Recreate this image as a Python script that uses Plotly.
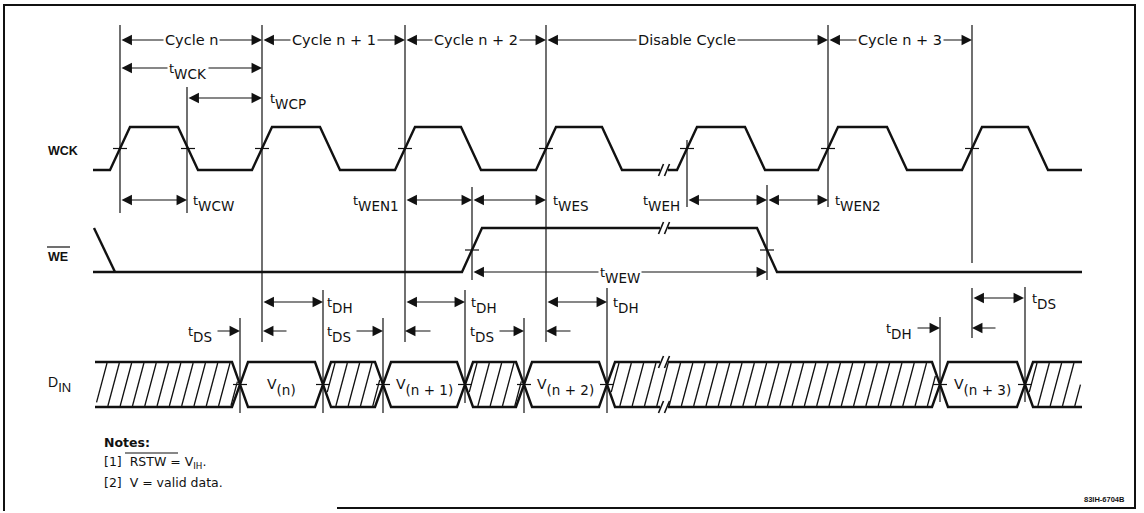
import numpy as np
import plotly.graph_objects as go

# ---------------- data (time axis in arbitrary units) ----------------
WCK_RISE = [120, 262, 405, 546, 687, 828, 972]
WCK_FALL = [188, 330, 471, 612, 755, 897, 1038]
WCK_SPAN = [93, 1082]
BREAK_T = [660, 668]

CYCLE_BOUNDS = [120, 262, 405, 546, 828, 972]
CYCLE_LABELS = ["Cycle n", "Cycle n + 1", "Cycle n + 2", "Disable Cycle", "Cycle n + 3"]

WE_FALL0 = [94, 115]
WE_EDGES = [472, 767]

DIN_CROSS = [240, 323, 383, 465, 524, 607, 940, 1025]
DIN_VALID = ["(n)", "(n + 1)", "(n + 2)", "(n + 3)"]

# timing parameters: (start, end, row)
CYCLE_ROW = 40
TWO_WAY = [
    (120, 262, 68), (187, 262, 98), (120, 187, 200), (405, 472, 200),
    (472, 546, 200), (687, 767, 200), (767, 828, 200), (472, 767, 272),
    (262, 323, 302), (405, 465, 302), (546, 607, 302), (972, 1024, 298),
]
ONE_WAY = [  # tail -> head
    (216, 240, 331), (288, 263, 331), (355, 383, 331), (432, 405, 331),
    (498, 524, 331), (572, 546, 331), (916, 940, 328), (997, 972, 328),
]
# timing labels: (x, row, name, anchor, background)
TIMING_LABELS = [
    (188, 68, "WCK", "center", True),
    (268, 98, "WCP", "left", False),
    (191, 200, "WCW", "left", False),
    (401, 200, "WEN1", "right", False),
    (551, 200, "WES", "left", False),
    (682, 200, "WEH", "right", False),
    (833, 200, "WEN2", "left", False),
    (620, 272, "WEW", "center", True),
    (325, 302, "DH", "left", False),
    (469, 302, "DH", "left", False),
    (611, 302, "DH", "left", False),
    (1030, 298, "DS", "left", False),
    (214, 331, "DS", "right", False),
    (353, 331, "DS", "right", False),
    (496, 331, "DS", "right", False),
    (914, 328, "DH", "right", False),
]

REF_LINES = [  # (t, from row, to row)
    (120, 25, 213), (187, 87, 213), (262, 25, 342), (405, 25, 342), (546, 25, 342),
    (687, 140, 207), (767, 185, 280), (828, 25, 207), (972, 25, 263), (972, 288, 338),
    (472, 187, 280), (240, 318, 413), (323, 290, 413), (383, 318, 413), (465, 290, 403),
    (524, 318, 413), (607, 288, 413), (940, 317, 402), (1025, 287, 402),
]

# levels (row units, top = 0)
WCK_HI, WCK_LO = 127, 170
WE_HI, WE_LO = 228, 272
DIN_TOP, DIN_BOT = 362, 407

INK = "#111111"
FONT = "DejaVu Sans, Liberation Sans, Arial, sans-serif"
FONT2 = "Liberation Sans, Arial, sans-serif"

fig = go.Figure()


def add_line(xs, ys, width=2.4, color=INK):
    fig.add_trace(go.Scatter(x=xs, y=ys, mode="lines", hoverinfo="skip", showlegend=False,
                             line=dict(color=color, width=width)))


def break_marks(xc, yc, h=6):
    xs, ys = [], []
    for dx in (-3, 3):
        xs += [xc + dx - 2.5, xc + dx + 2.5, None]
        ys += [yc + h, yc - h, None]
    add_line(xs, ys, width=1.6)


# ---- WCK waveform ----
tr = 10
events = sorted([(r, "r") for r in WCK_RISE] + [(f, "f") for f in WCK_FALL])
xs, ys = [WCK_SPAN[0]], [WCK_LO]
for t, kind in events:
    if kind == "r":
        if BREAK_T[1] < t < BREAK_T[1] + 30:
            xs += [BREAK_T[0], None, BREAK_T[1]]
            ys += [WCK_LO, None, WCK_LO]
        xs += [t - tr, t + tr]
        ys += [WCK_LO, WCK_HI]
    else:
        xs += [t - tr, t + tr]
        ys += [WCK_HI, WCK_LO]
xs.append(WCK_SPAN[1]); ys.append(WCK_LO)
add_line(xs, ys)
break_marks(sum(BREAK_T) / 2, WCK_LO)

# crossing ticks
tk, tky = [], []
WCK_MID = (WCK_HI + WCK_LO) / 2
WE_MID = (WE_HI + WE_LO) / 2
DIN_MID = (DIN_TOP + DIN_BOT) / 2
for ts, ym in ((WCK_RISE + [WCK_FALL[0]], WCK_MID), (WE_EDGES, WE_MID), (DIN_CROSS, DIN_MID)):
    for t in ts:
        tk += [t - 7, t + 7, None]
        tky += [ym, ym, None]
add_line(tk, tky, width=1.2)

# ---- WE waveform ----
add_line(WE_FALL0, [WE_HI, WE_LO])
r, f = WE_EDGES
add_line([WE_FALL0[0] - 1, r - tr, r + tr, BREAK_T[0]], [WE_LO, WE_LO, WE_HI, WE_HI])
add_line([BREAK_T[1], f - tr, f + tr, WCK_SPAN[1]], [WE_HI, WE_HI, WE_LO, WE_LO])
break_marks(sum(BREAK_T) / 2, WE_HI)

# ---- DIN bus ----
hw = 8
hh = (DIN_BOT - DIN_TOP) / 2
bounds = [WCK_SPAN[0] + 2] + DIN_CROSS + [WCK_SPAN[1]]
nreg = len(bounds) - 1
top_x, top_y, bot_x, bot_y = [], [], [], []
for i in range(nreg):
    a, b = bounds[i], bounds[i + 1]
    px, pt, pb = [], [], []
    if i > 0:
        px.append(a); pt.append(DIN_MID); pb.append(DIN_MID)
    px.append(a + hw if i > 0 else a); pt.append(DIN_TOP); pb.append(DIN_BOT)
    px.append(b - hw if i < nreg - 1 else b); pt.append(DIN_TOP); pb.append(DIN_BOT)
    if i < nreg - 1:
        px.append(b); pt.append(DIN_MID); pb.append(DIN_MID)
    # break in the long invalid section
    if a < BREAK_T[0] < b:
        k = 2 if i > 0 else 1
        px = px[:k] + [BREAK_T[0], None, BREAK_T[1]] + px[k:]
        pt = pt[:k] + [DIN_TOP, None, DIN_TOP] + pt[k:]
        pb = pb[:k] + [DIN_BOT, None, DIN_BOT] + pb[k:]
    top_x += px + [None]; top_y += pt + [None]
    bot_x += px + [None]; bot_y += pb + [None]
add_line(top_x, top_y)
add_line(bot_x, bot_y)
for yb in (DIN_TOP, DIN_BOT):
    break_marks(sum(BREAK_T) / 2, yb)

# hatching of invalid-data regions
spacing, slant = 12.3, 12
hx, hy = [], []
ygrid = np.linspace(DIN_TOP + 1, DIN_BOT - 1, 200)
for i in range(0, nreg, 2):
    a, b = bounds[i], bounds[i + 1]
    left = np.full_like(ygrid, a) if i == 0 else a + hw * np.abs(ygrid - DIN_MID) / hh
    right = np.full_like(ygrid, b) if i == nreg - 1 else b - hw * np.abs(ygrid - DIN_MID) / hh
    xb = a - slant
    while xb < b + 2:
        xline = xb + slant * (DIN_BOT - ygrid) / (DIN_BOT - DIN_TOP)
        inside = (xline >= left + 1.5) & (xline <= right - 1.5)
        if inside.any():
            idx = np.where(inside)[0]
            hx += [xline[idx[0]], xline[idx[-1]], None]
            hy += [ygrid[idx[0]], ygrid[idx[-1]], None]
        xb += spacing
add_line(hx, hy, width=1.3)

# ---- reference lines ----
rx, ry = [], []
for t, y0, y1 in REF_LINES:
    rx += [t, t, None]
    ry += [y0, y1, None]
add_line(rx, ry, width=1.2)

# ---- border ----
add_line([4, 4, 1135, 1135, 337], [511, 5, 5, 508, 508], width=2)

# ---- annotations ----
ann = []
arrow_style = dict(xref="x", yref="y", axref="x", ayref="y", text="", showarrow=True,
                   arrowcolor=INK, arrowwidth=1.1, arrowsize=1.9, arrowhead=2,
                   startarrowhead=2, startarrowsize=1.9, standoff=0, startstandoff=0)

for a, b in zip(CYCLE_BOUNDS[:-1], CYCLE_BOUNDS[1:]):
    ann.append(dict(x=b, y=CYCLE_ROW, ax=a, ay=CYCLE_ROW, arrowside="end+start", **arrow_style))
for a, b, yrow in TWO_WAY:
    ann.append(dict(x=b, y=yrow, ax=a, ay=yrow, arrowside="end+start", **arrow_style))
for a, b, yrow in ONE_WAY:
    ann.append(dict(x=b, y=yrow, ax=a, ay=yrow, arrowside="end", **arrow_style))


def label(x, y, text, anchor="left", size=13, bg=None, bold=False, family=FONT):
    d = dict(x=x, y=y, xref="x", yref="y", text=("<b>%s</b>" % text) if bold else text,
             showarrow=False, xanchor=anchor, yanchor="middle",
             font=dict(family=family, size=size, color=INK))
    if bg:
        d.update(bgcolor="white", borderpad=1)
    ann.append(d)


def raised(lead, rest, lead_px):
    return "<sup><span style='font-size:%dpx'>%s</span></sup>%s" % (lead_px, lead, rest)


for (a, b), lab in zip(zip(CYCLE_BOUNDS[:-1], CYCLE_BOUNDS[1:]), CYCLE_LABELS):
    label((a + b) / 2, CYCLE_ROW, lab, anchor="center", size=14.5, bg=True)

for x, yrow, name, anchor, bg in TIMING_LABELS:
    label(x, yrow + 3, raised("t", name, 13), anchor=anchor, size=13.5, bg=bg)

# data labels
for i, t in enumerate(DIN_VALID):
    a, b = DIN_CROSS[2 * i], DIN_CROSS[2 * i + 1]
    label((a + b) / 2, DIN_MID + 2, raised("V", t, 14), anchor="center", size=13.5)

# signal names
label(46, 151, "WCK", size=12.5, bold=True, family=FONT2)
label(46, 257, "WE", size=12.5, bold=True, family=FONT2)
label(46, 384, raised("D", "IN", 14), size=13, family=FONT2)
add_line([47, 70], [247, 247], width=1.2)

# notes
label(102, 442, "Notes:", size=12.5, bold=True)
label(102, 462, "[1]  RSTW = V<sub>IH</sub>.", size=12.5)
label(102, 482, "[2]  V = valid data.", size=12.5)
add_line([125, 178], [453, 453], width=1.1)
label(1127, 499, "83IH-6704B", anchor="right", size=7.5, bold=True, family=FONT2)

fig.update_layout(
    width=1144, height=513, margin=dict(l=0, r=0, t=0, b=0),
    paper_bgcolor="white", plot_bgcolor="white", showlegend=False,
    xaxis=dict(range=[0, 1144], visible=False, fixedrange=True),
    yaxis=dict(range=[513, 0], visible=False, fixedrange=True),
    annotations=ann,
)
fig.write_html("out.html", config={"displayModeBar": False, "staticPlot": True},
               post_script="document.body.style.margin='0';document.body.style.overflow='hidden';")
